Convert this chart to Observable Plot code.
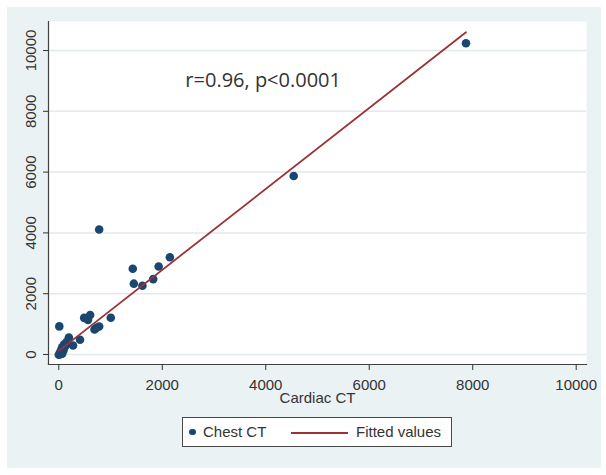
<!DOCTYPE html>
<html>
<head>
<meta charset="utf-8">
<script src="https://cdn.jsdelivr.net/npm/d3@7"></script>
<script src="https://cdn.jsdelivr.net/npm/@observablehq/plot@0.6"></script>
<style>
  html, body { margin: 0; padding: 0; background: #ffffff; }
  #wrap { position: relative; width: 606px; height: 475px; background: #ffffff; overflow: hidden; font-family: "Liberation Sans", Arial, sans-serif; }
  #panel { position: absolute; left: 7px; top: 7px; width: 594px; height: 461px; background: #eaf2f3; }
  #chart { position: absolute; left: 0; top: 0; }
  #legend { position: absolute; left: 182px; top: 417px; width: 270px; height: 30px; box-sizing: border-box;
            border: 1.5px solid #4a4a4a; background: #ffffff; font-size: 15px; color: #333; }
  #legend .dot { position: absolute; left: 6px; top: 10.5px; width: 6.5px; height: 6.5px; border-radius: 50%; background: #1a476f; }
  #legend .t1 { position: absolute; left: 20px; top: 5px; line-height: 18px; }
  #legend .ln { position: absolute; left: 108px; top: 13.5px; width: 57px; height: 2px; background: #9c3237; }
  #legend .t2 { position: absolute; left: 173px; top: 5px; line-height: 18px; }
</style>
</head>
<body>
<div id="wrap">
  <div id="panel"></div>
  <div id="chart"></div>
  <div id="legend">
    <span class="dot"></span><span class="t1">Chest CT</span>
    <span class="ln"></span><span class="t2">Fitted values</span>
  </div>
</div>
<script>
// Cardiac CT (x) and Chest CT (y) values
const cardiac = [7870, 4540, 780, 1430, 1450, 1616, 1825, 1930, 2147,
                 10, 490, 606, 565, 530, 690, 780, 730, 1005,
                 410, 275, 195, 150, 100, 65, 40, 20, 0, 65, 90, 120, 30];
const chest   = [10240, 5870, 4110, 2820, 2330, 2260, 2480, 2895, 3200,
                 925, 1205, 1300, 1140, 1190, 825, 920, 880, 1210,
                 485, 295, 560, 410, 330, 240, 130, 45, -10, 25, 130, 260, 10];
// Fitted values line at its two ends
const fitCardiac = [0, 7870];
const fitChest = [120, 10600];
const xTicks = [0, 2000, 4000, 6000, 8000, 10000];
const yTicks = [0, 2000, 4000, 6000, 8000, 10000];
const xLabel = "Cardiac CT";
const noteText = "r=0.96, p<0.0001";
const noteX = 3950;
const noteY = 9000;

const data = cardiac.map((c, i) => ({cardiac: c, chest: chest[i]}));
const fit = fitCardiac.map((c, i) => ({cardiac: c, chest: fitChest[i]}));
const note = [{x: noteX, y: noteY, text: noteText}];

const ink = "#333333";
const chart = Plot.plot({
  width: 606,
  height: 412,
  marginLeft: 48,
  marginRight: 20,
  marginTop: 21,
  marginBottom: 48,
  style: {background: "transparent", fontFamily: "'Liberation Sans', Arial, sans-serif"},
  x: {domain: [-199, 10199]},
  y: {domain: [-329, 10954]},
  marks: [
    Plot.frame({fill: "white", stroke: "none"}),
    Plot.gridY(yTicks, {stroke: "#e2eaec", strokeOpacity: 1, strokeWidth: 1.5}),
    Plot.axisX(xTicks, {tickSize: 6, tickPadding: 9, fontSize: 15, color: ink, tickFormat: "d", label: null}),
    Plot.axisY(yTicks, {tickSize: 5, tickFormat: () => "", label: null, color: ink}),
    Plot.text(yTicks, {y: d => d, text: d => String(d), frameAnchor: "left", dx: -17, rotate: -90,
                       fontSize: 15, fill: ink, textAnchor: "middle", lineAnchor: "middle"}),
    Plot.text([xLabel], {text: d => d, frameAnchor: "bottom", dy: 38, fontSize: 15, fill: ink}),
    Plot.dot(data, {x: "cardiac", y: "chest", r: 4.3, fill: "#1a476f", stroke: "none"}),
    Plot.line(fit, {x: "cardiac", y: "chest", stroke: "#9c3237", strokeWidth: 1.8}),
    Plot.text(note, {x: "x", y: "y", text: "text", fontSize: 20, fill: ink,
                     fontFamily: "'Open Sans', sans-serif"}),
    Plot.frame({anchor: "left", stroke: "#404040", strokeWidth: 1.2}),
    Plot.frame({anchor: "bottom", stroke: "#404040", strokeWidth: 1.2})
  ]
});
document.getElementById("chart").appendChild(chart);
</script>
</body>
</html>
